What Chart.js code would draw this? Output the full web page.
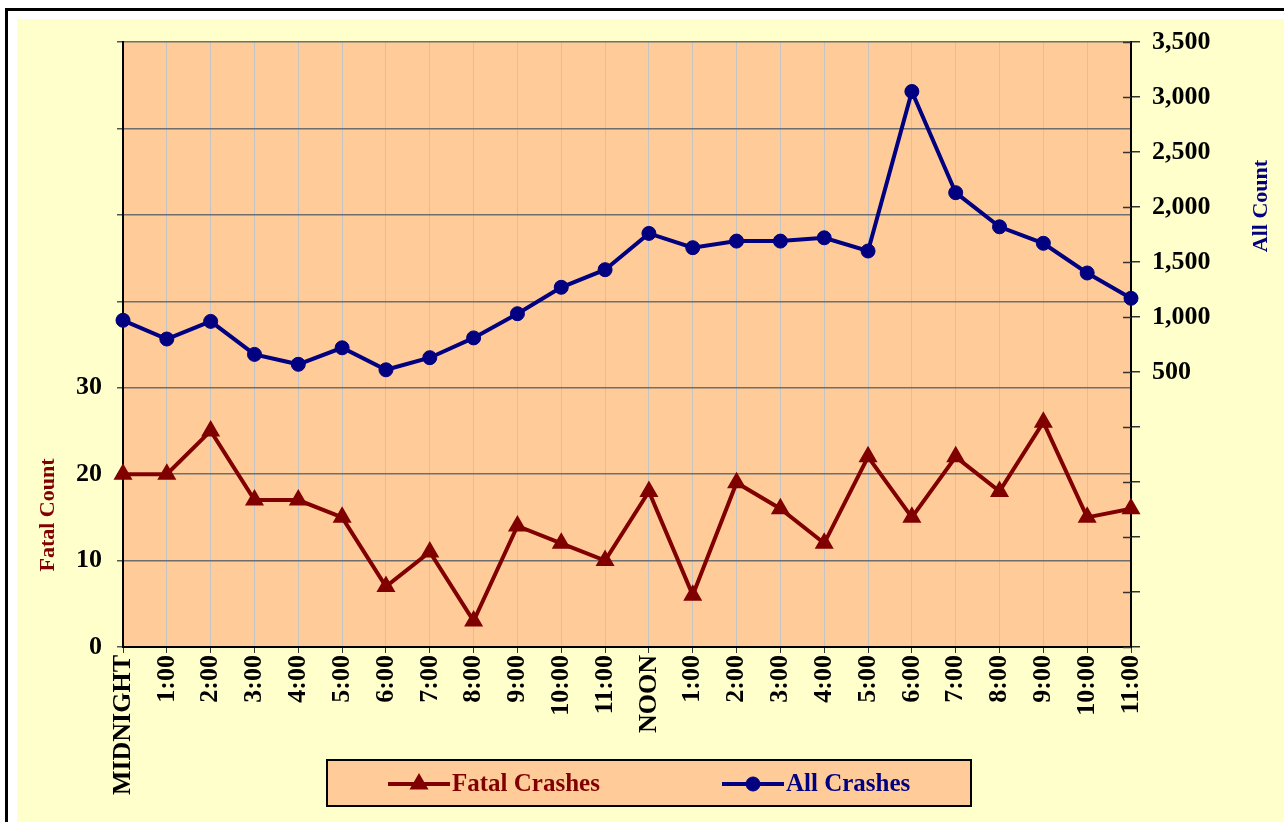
<!DOCTYPE html>
<html>
<head>
<meta charset="utf-8">
<script src="https://cdn.jsdelivr.net/npm/chart.js@4.4.0/dist/chart.umd.min.js"></script>
<style>
  html, body { margin: 0; padding: 0; background: #fff; }
  #wrap { width: 1284px; height: 822px; position: relative; }
</style>
</head>
<body>
<div id="wrap"><canvas id="crashChart"></canvas></div>
<script>
// Crashes by hour of day: fatal (left axis) vs all (right axis)

const hourLabels = ['MIDNIGHT', '1:00', '2:00', '3:00', '4:00', '5:00', '6:00', '7:00', '8:00', '9:00', '10:00', '11:00',
    'NOON', '1:00', '2:00', '3:00', '4:00', '5:00', '6:00', '7:00', '8:00', '9:00', '10:00', '11:00'];
const fatalCrashes = [20, 20, 25, 17, 17, 15, 7, 11, 3, 14, 12, 10, 18, 6, 19, 16, 12, 22, 15, 22, 18, 26, 15, 16];
const allCrashes = [970, 800, 960, 660, 570, 720, 520, 630, 810, 1030, 1270, 1430,
    1760, 1630, 1690, 1690, 1720, 1600, 3050, 2130, 1820, 1670, 1400, 1170];
const fatalTicksShown = [0, 10, 20, 30];
const allTicksShown = [500, 1000, 1500, 2000, 2500, 3000, 3500];

const FONT = "'Liberation Serif', 'Times New Roman', serif";
const FATAL_COLOR = '#800000';
const ALL_COLOR = '#000080';
const PEACH = '#FFCC99';

// Page frame, yellow background and peach plot area
const backdrop = {
    id: 'backdrop',
    beforeDraw(chart) {
        const { ctx, width, height, chartArea } = chart;
        ctx.save();
        ctx.fillStyle = '#ffffff';
        ctx.fillRect(0, 0, width, height);
        ctx.fillStyle = '#FFFFCC';
        ctx.fillRect(17, 19, width - 17, height - 19);
        ctx.fillStyle = '#000000';
        ctx.fillRect(5, 8, 3, height - 8);
        ctx.fillRect(5, 8, width - 5, 3);
        ctx.fillStyle = PEACH;
        ctx.fillRect(chartArea.left, chartArea.top, chartArea.right - chartArea.left, chartArea.bottom - chartArea.top);
        ctx.restore();
    },
    // short inner tick marks on the right axis
    beforeDatasetsDraw(chart) {
        const { ctx } = chart;
        const scale = chart.scales.y1;
        ctx.save();
        ctx.strokeStyle = '#333';
        ctx.lineWidth = 1.5;
        scale.ticks.forEach(t => {
            const y = Math.round(scale.getPixelForValue(t.value)) + 0.5;
            ctx.beginPath();
            ctx.moveTo(scale.left - 8, y);
            ctx.lineTo(scale.left, y);
            ctx.stroke();
        });
        ctx.restore();
    }
};

// Axis titles and boxed legend
const annotations = {
    id: 'annotations',
    afterDraw(chart) {
        const { ctx } = chart;
        ctx.save();
        ctx.font = 'bold 22px ' + FONT;
        ctx.textAlign = 'center';
        ctx.textBaseline = 'middle';

        ctx.save();
        ctx.translate(48, 515);
        ctx.rotate(-Math.PI / 2);
        ctx.fillStyle = FATAL_COLOR;
        ctx.fillText('Fatal Count', 0, 0);
        ctx.restore();

        ctx.save();
        ctx.translate(1261, 206);
        ctx.rotate(-Math.PI / 2);
        ctx.fillStyle = ALL_COLOR;
        ctx.fillText('All Count', 0, 0);
        ctx.restore();

        // legend box
        ctx.fillStyle = PEACH;
        ctx.fillRect(327, 760, 644, 46);
        ctx.strokeStyle = '#000';
        ctx.lineWidth = 2;
        ctx.strokeRect(327, 760, 644, 46);

        const items = [
            { ds: chart.data.datasets[0], x: 388 },
            { ds: chart.data.datasets[1], x: 722 }
        ];
        const y = 784;
        items.forEach(({ ds, x }) => {
            ctx.strokeStyle = ds.borderColor;
            ctx.fillStyle = ds.borderColor;
            ctx.lineWidth = ds.borderWidth;
            ctx.beginPath();
            ctx.moveTo(x, y);
            ctx.lineTo(x + 62, y);
            ctx.stroke();
            ctx.lineWidth = ds.pointBorderWidth;
            Chart.helpers.drawPoint(ctx, {
                pointStyle: ds.pointStyle,
                radius: ds.pointRadius,
                rotation: 0,
                borderWidth: ds.pointBorderWidth
            }, x + 31, y);
            ctx.font = 'bold 25px ' + FONT;
            ctx.textAlign = 'left';
            ctx.textBaseline = 'middle';
            ctx.fillText(ds.label, x + 64, y + 1);
        });
        ctx.restore();
    }
};

const ctx = document.getElementById('crashChart').getContext('2d');
const chart = new Chart(ctx, {
    type: 'line',
    data: {
        labels: hourLabels,
        datasets: [{
            label: 'Fatal Crashes',
            data: fatalCrashes,
            yAxisID: 'y',
            borderColor: FATAL_COLOR,
            backgroundColor: FATAL_COLOR,
            borderWidth: 4,
            pointStyle: 'triangle',
            pointRadius: 9,
            pointBorderWidth: 2,
            pointBackgroundColor: FATAL_COLOR,
            tension: 0
        }, {
            label: 'All Crashes',
            data: allCrashes,
            yAxisID: 'y1',
            borderColor: ALL_COLOR,
            backgroundColor: ALL_COLOR,
            borderWidth: 4,
            pointStyle: 'circle',
            pointRadius: 7,
            pointBorderWidth: 1,
            pointBackgroundColor: ALL_COLOR,
            tension: 0
        }]
    },
    options: {
        responsive: true,
        maintainAspectRatio: false,
        animation: false,
        layout: { padding: { left: 20, top: 42, right: 0, bottom: 0 } },
        plugins: {
            legend: { display: false },
            title: { display: false },
            tooltip: { enabled: false }
        },
        scales: {
            x: {
                grid: { color: '#c4c4c4', lineWidth: 1, tickColor: '#333', tickLength: 6 },
                border: { color: '#000', width: 2 },
                ticks: {
                    autoSkip: false,
                    maxRotation: 90,
                    minRotation: 90,
                    padding: 2,
                    color: '#000',
                    font: { family: FONT, size: 26, weight: 'bold' }
                },
                afterFit: scale => { scale.height = 175; }
            },
            y: {
                position: 'left',
                min: 0,
                max: 70,
                grid: { color: '#6e6e6e', lineWidth: 1.5, tickColor: '#555', tickLength: 6 },
                border: { color: '#000', width: 2 },
                ticks: {
                    stepSize: 10,
                    padding: 15,
                    color: '#000',
                    font: { family: FONT, size: 26, weight: 'bold' },
                    callback: v => fatalTicksShown.includes(v) ? v : ''
                },
                afterFit: scale => { scale.width = 103; }
            },
            y1: {
                position: 'right',
                min: -2000,
                max: 3500,
                grid: { drawOnChartArea: false, tickColor: '#333', tickLength: 9, lineWidth: 1.5 },
                border: { color: '#000', width: 2 },
                ticks: {
                    stepSize: 500,
                    padding: 12,
                    color: '#000',
                    font: { family: FONT, size: 26, weight: 'bold' },
                    callback: v => allTicksShown.includes(v) ? v.toLocaleString('en-US') : ''
                },
                afterFit: scale => { scale.width = 153; }
            }
        }
    },
    plugins: [backdrop, annotations]
});
</script>
</body>
</html>
